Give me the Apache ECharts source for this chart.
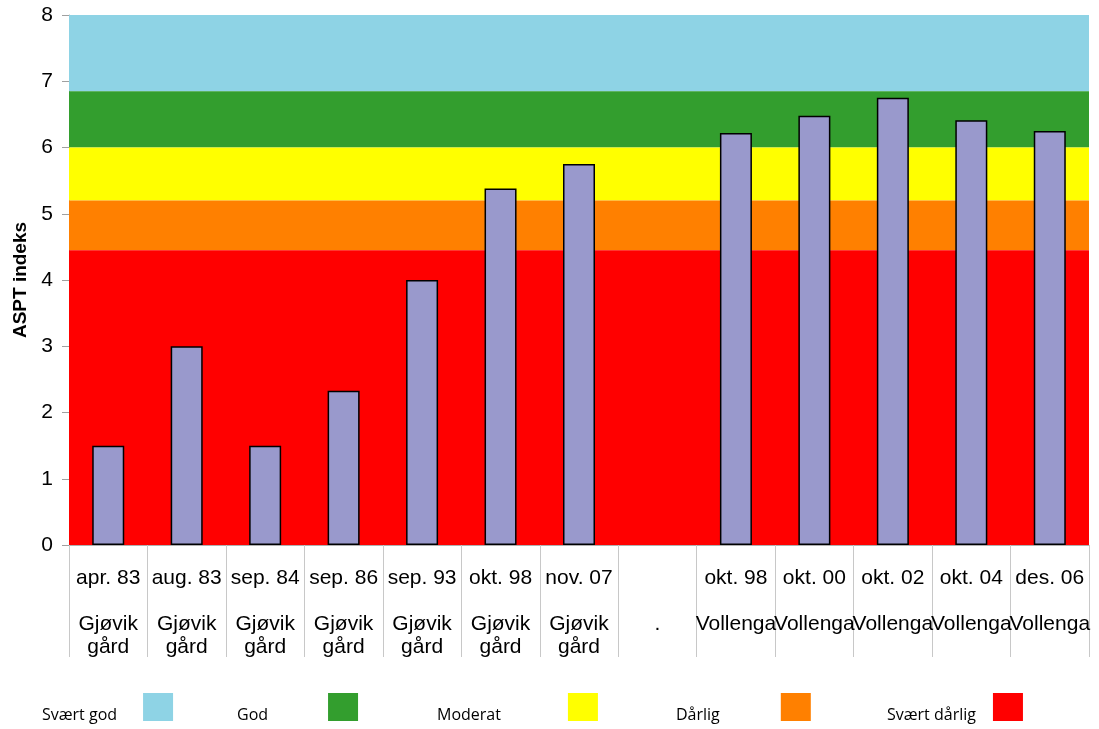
<!DOCTYPE html>
<html>
<head>
<meta charset="utf-8">
<script src="https://cdn.jsdelivr.net/npm/echarts@6/dist/echarts.min.js"></script>
<style>
  html, body { margin: 0; padding: 0; background: #fff; }
  #chart { width: 1099px; height: 729px; }
</style>
</head>
<body>
<div id="chart"></div>
<script>
// Sampling dates and stations
const dates = ['apr. 83', 'aug. 83', 'sep. 84', 'sep. 86', 'sep. 93', 'okt. 98', 'nov. 07', '', 'okt. 98', 'okt. 00', 'okt. 02', 'okt. 04', 'des. 06'];
const stations = ['Gjøvik\ngård', 'Gjøvik\ngård', 'Gjøvik\ngård', 'Gjøvik\ngård', 'Gjøvik\ngård', 'Gjøvik\ngård', 'Gjøvik\ngård', '.', 'Vollenga', 'Vollenga', 'Vollenga', 'Vollenga', 'Vollenga'];
// ASPT index per sample (null = no sample)
const asptValues = [1.5, 3.0, 1.5, 2.33, 4.0, 5.38, 5.75, null, 6.22, 6.48, 6.75, 6.41, 6.25];
// Ecological status classes: name, lower bound, upper bound
const classNames = ['Svært god', 'God', 'Moderat', 'Dårlig', 'Svært dårlig'];
const classLower = [6.85, 6.0, 5.2, 4.45, 0];
const classUpper = [8, 6.85, 6.0, 5.2, 4.45];
const classColors = ['#8ed3e5', '#339e2e', '#ffff00', '#ff8000', '#ff0000'];
const yTicks = [0, 1, 2, 3, 4, 5, 6, 7, 8];

const categories = dates.map((d, i) => d + '\n\n' + stations[i]);

const chart = echarts.init(document.getElementById('chart'), null, { renderer: 'canvas' });

// Legend layout: left edge of label, gap between label and swatch
const legendLeft = [37, 232, 432, 671, 882];
const legendGap = [26, 60, 67, 61, 17];
// Swatch sits in the upper part of the icon box so the label reads a little lower
const swatchIcon = 'path://M0,0L30,0L30,28L0,28Z M0,44L0.01,44';

const bandSeries = classNames.map((name, i) => ({
  name: name,
  type: 'line',
  data: [],
  color: classColors[i],
  itemStyle: { color: classColors[i] },
  markArea: {
    silent: true,
    itemStyle: { color: classColors[i], opacity: 1 },
    data: [[{ yAxis: classLower[i] }, { yAxis: classUpper[i] }]]
  },
  z: 1
}));

const legends = classNames.map((name, i) => ({
  data: [name],
  left: legendLeft[i],
  top: 688,
  padding: 5,
  align: 'right',
  icon: swatchIcon,
  itemWidth: 30,
  itemHeight: 44,
  selectedMode: false,
  textStyle: {
    fontFamily: 'Open Sans',
    fontSize: 16,
    color: '#000',
    padding: [0, legendGap[i] - 5, 0, 0]
  }
}));

chart.setOption({
  animation: false,
  backgroundColor: '#fff',
  grid: { left: 69, right: 10, top: 15, bottom: 184, containLabel: false },
  legend: legends,
  xAxis: {
    type: 'category',
    data: categories,
    boundaryGap: true,
    axisLine: { lineStyle: { color: '#b0b0b0', width: 1 } },
    axisTick: { show: true, length: 112, lineStyle: { color: '#c8c8c8' } },
    axisLabel: {
      interval: 0,
      margin: 22,
      fontFamily: 'Liberation Sans',
      fontSize: 21,
      lineHeight: 23,
      color: '#000'
    }
  },
  yAxis: {
    type: 'value',
    min: yTicks[0],
    max: yTicks[yTicks.length - 1],
    interval: 1,
    name: 'ASPT indeks',
    nameLocation: 'middle',
    nameGap: 39,
    nameTextStyle: { fontFamily: 'Liberation Sans', fontSize: 19, fontWeight: 'bold', color: '#000' },
    axisLine: { show: true, lineStyle: { color: '#b0b0b0' } },
    axisTick: { show: true, length: 7, lineStyle: { color: '#a0a0a0' } },
    splitLine: { show: false },
    axisLabel: { fontFamily: 'Liberation Sans', fontSize: 21, color: '#000', margin: 16 }
  },
  series: bandSeries.concat([{
    name: 'ASPT',
    type: 'bar',
    data: asptValues,
    barWidth: 32,
    z: 5,
    itemStyle: { color: '#9999cc', borderColor: '#000', borderWidth: 1.5 }
  }])
});
</script>
</body>
</html>
